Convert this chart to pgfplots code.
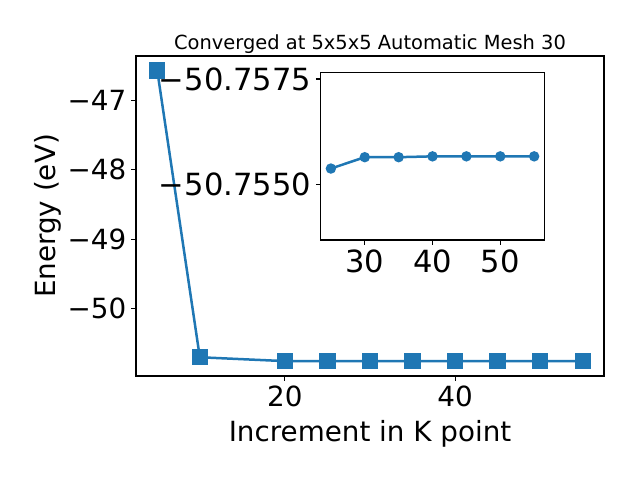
\documentclass[border=0pt]{standalone}
\usepackage{fontspec}
\setmainfont{DejaVu Sans}
\usepackage{pgfplots}
\pgfplotsset{compat=1.18}
\definecolor{tabblue}{HTML}{1F77B4}
\begin{document}
\begin{tikzpicture}
\path[use as bounding box] (-97.92pt,-74.88pt) rectangle (362.88pt,270.72pt);
\begin{axis}[
  at={(0pt,0pt)}, anchor=south west,
  width=336.96pt, height=230.4pt, scale only axis,
  xmin=2.5, xmax=57.5, ymin=-50.97, ymax=-46.36,
  xtick={20,40}, xticklabels={20,40},
  ytick={-50,-49,-48,-47}, yticklabels={−50,−49,−48,−47},
  tick pos=left, tick align=outside, major tick length=3.5pt,
  tick style={line width=0.8pt, black},
  axis line style={line width=0.8pt},
  ticklabel style={font=\fontsize{20}{24}\selectfont},
  label style={font=\fontsize{20}{24}\selectfont},
  xlabel={Increment in K point}, ylabel={Energy (eV)},
  xlabel style={yshift=-3pt},
  ylabel style={yshift=-2pt},
  title={Converged at 5x5x5 Automatic Mesh 30},
  title style={font=\fontsize{14}{17}\selectfont, yshift=-8pt},
]
\addplot[color=tabblue, line width=1.8pt, mark=square*, mark size=5pt, mark options={solid, fill=tabblue}]
coordinates {(5,-46.57) (10,-50.70) (20,-50.7556) (25,-50.7554) (30,-50.7556) (35,-50.7556) (40,-50.7557) (45,-50.7557) (50,-50.7557) (55,-50.7557)};
\end{axis}
\begin{axis}[
  at={(133.0pt,97.9pt)}, anchor=south west,
  width=161pt, height=120.5pt, scale only axis,
  axis background/.style={fill=white},
  xmin=23.5, xmax=56.5, y dir=reverse, ymin=-50.75765, ymax=-50.75367,
  xtick={30,40,50}, xticklabels={30,40,50},
  ytick={-50.7575,-50.7550}, yticklabels={−50.7575,−50.7550},
  tick pos=left, tick align=outside, major tick length=3.5pt,
  tick style={line width=0.8pt, black},
  axis line style={line width=0.8pt},
  ticklabel style={font=\fontsize{22}{26}\selectfont},
]
\addplot[color=tabblue, line width=1.8pt, mark=*, mark size=2.8pt, mark options={solid, fill=tabblue}]
coordinates {(25,-50.75537) (30,-50.75564) (35,-50.75564) (40,-50.75566) (45,-50.75566) (50,-50.75566) (55,-50.75566)};
\end{axis}
\end{tikzpicture}
\end{document}
